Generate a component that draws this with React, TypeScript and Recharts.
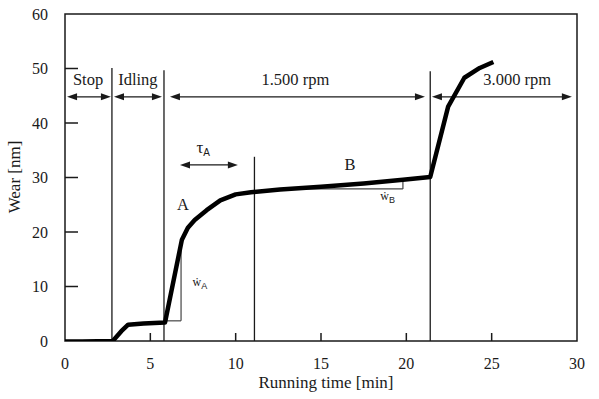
import { ComposedChart, Line, XAxis, YAxis, ReferenceLine, ReferenceDot, ReferenceArea } from "recharts"

// wear curve
const time = [0, 1, 2.8, 3.3, 3.7, 4.6, 5.86, 6.85, 7.2, 7.6, 8.3, 9.1, 10.0, 10.9, 12.6, 15, 17.5, 19.8, 21.4, 22.45, 23.4, 24.3, 25.1]
const wear = [-0.1, -0.1, 0, 1.8, 3.0, 3.2, 3.4, 18.6, 20.8, 22.2, 24.0, 25.8, 26.9, 27.3, 27.8, 28.3, 28.9, 29.6, 30.1, 43, 48.3, 50.1, 51.2]

const xTicks = [0, 5, 10, 15, 20, 25, 30]
const yTicks = [0, 10, 20, 30, 40, 50, 60]
const xInner = [5, 10, 15, 20, 25]
const yInner = [10, 20, 30, 40, 50]

// phase boundaries (vertical lines)
const phaseTimes = [2.75, 5.8, 11.1, 21.4]
const phaseTops = [50.1, 49.7, 33.8, 49.5]

// double-headed arrows with their labels
const spanLabels = ["Stop", "Idling", "1.500 rpm", "3.000 rpm"]
const spanStarts = [0.12, 2.87, 6.15, 21.5]
const spanEnds = [2.69, 5.68, 21.09, 29.7]
const spanLabelTimes = [1.35, 4.27, 13.5, 26.5]
const spanLevel = 44.8

// tau_A arrow
const tauStart = 6.74
const tauEnd = 10.13
const tauLevel = 32.3

// rate triangles
const rateSegments = [
  [{ x: 5.9, y: 3.7 }, { x: 6.8, y: 3.7 }],
  [{ x: 6.8, y: 3.7 }, { x: 6.8, y: 18.6 }],
  [{ x: 12.5, y: 27.9 }, { x: 19.8, y: 27.9 }],
  [{ x: 19.8, y: 27.9 }, { x: 19.8, y: 29.6 }],
]

const data = time.map((t, i) => ({ t, w: wear[i] }))

const FONT = "'Liberation Serif', 'Times New Roman', serif"
const INK = "#1a1a1a"

function Arrow(props: any) {
  const { x1, y1, x2 } = props
  const l = Math.min(x1, x2)
  const r = Math.max(x1, x2)
  const y = y1
  const hl = 10
  const hw = 3.5
  return (
    <g>
      <line x1={l + 4} y1={y} x2={r - 4} y2={y} stroke={INK} strokeWidth={1.3} />
      <polygon points={`${l},${y} ${l + hl},${y - hw} ${l + hl},${y + hw}`} fill={INK} />
      <polygon points={`${r},${y} ${r - hl},${y - hw} ${r - hl},${y + hw}`} fill={INK} />
    </g>
  )
}

function Label(text: string, sub?: string, size = 16, subSize = 10) {
  return (props: any) => (
    <text x={props.cx} y={props.cy} textAnchor="middle" dominantBaseline="central" fontFamily={FONT} fontSize={size} fill={INK}>
      {text}
      {sub ? (
        <tspan dy={4} fontSize={subSize} fontFamily="'Liberation Sans', Arial, sans-serif">
          {sub}
        </tspan>
      ) : null}
    </text>
  )
}

export default function App() {
  return (
    <div style={{ position: "absolute", left: 0, top: 0, background: "#fff" }}>
      <ComposedChart width={599} height={399} data={data} margin={{ top: 14, right: 22, bottom: 8, left: 0 }}>
        <XAxis
          dataKey="t"
          type="number"
          domain={[0, 30]}
          ticks={xTicks}
          axisLine={false}
          tickLine={false}
          tickSize={0}
          tickMargin={17}
          height={50}
          tick={{ fontFamily: FONT, fontSize: 16, fill: INK }}
          label={{ value: "Running time [min]", position: "insideBottom", offset: 3, dx: 5, fontFamily: FONT, fontSize: 17, fill: INK }}
        />
        <YAxis
          type="number"
          domain={[0, 60]}
          ticks={yTicks}
          allowDataOverflow
          axisLine={false}
          tickLine={false}
          tickSize={0}
          tickMargin={17}
          width={65}
          tick={{ fontFamily: FONT, fontSize: 16, fill: INK }}
          label={{
            content: (p: any) => {
              const vb = p.viewBox
              const cx = vb.x + 14
              const cy = 177
              return (
                <text x={cx} y={cy} transform={`rotate(-90 ${cx} ${cy})`} textAnchor="middle" dominantBaseline="central" fontFamily={FONT} fontSize={17} fill={INK}>
                  Wear [nm]
                </text>
              )
            },
          }}
        />

        <ReferenceArea x1={0} x2={30} y1={0} y2={60} fill="none" stroke={INK} strokeWidth={1.5} ifOverflow="visible" />

        {yInner.map((v) => (
          <ReferenceLine
            key={`yi${v}`}
            y={v}
            shape={(p: any) => {
              const x0 = Math.min(p.x1, p.x2)
              return <line x1={x0} y1={p.y1} x2={x0 + 13} y2={p.y1} stroke={INK} strokeWidth={1.5} />
            }}
          />
        ))}
        {xInner.map((v) => (
          <ReferenceLine
            key={`xi${v}`}
            x={v}
            shape={(p: any) => {
              const yb = Math.max(p.y1, p.y2)
              return <line x1={p.x1} y1={yb} x2={p.x1} y2={yb - 8} stroke={INK} strokeWidth={1.5} />
            }}
          />
        ))}

        {phaseTimes.map((t, i) => (
          <ReferenceLine
            key={`ph${i}`}
            segment={[
              { x: t, y: 0 },
              { x: t, y: phaseTops[i] },
            ]}
            stroke={INK}
            strokeWidth={1.3}
          />
        ))}

        {rateSegments.map((s, i) => (
          <ReferenceLine key={`rs${i}`} segment={s} stroke="#444" strokeWidth={1.2} />
        ))}

        {spanLabels.map((lab, i) => (
          <ReferenceLine
            key={`sp${i}`}
            segment={[
              { x: spanStarts[i], y: spanLevel },
              { x: spanEnds[i], y: spanLevel },
            ]}
            shape={Arrow}
          />
        ))}
        {spanLabels.map((lab, i) => (
          <ReferenceDot key={`sl${i}`} x={spanLabelTimes[i]} y={spanLevel + 3.1} r={0} shape={Label(lab, undefined, 16.5)} />
        ))}

        <ReferenceLine
          segment={[
            { x: tauStart, y: tauLevel },
            { x: tauEnd, y: tauLevel },
          ]}
          shape={Arrow}
        />
        <ReferenceDot x={8.1} y={35.5} r={0} shape={Label("τ", "A", 17, 10)} />

        <ReferenceDot x={6.91} y={25} r={0} shape={Label("A", undefined, 16.5)} />
        <ReferenceDot x={16.7} y={32.3} r={0} shape={Label("B", undefined, 16.5)} />
        <ReferenceDot x={7.9} y={10.8} r={0} shape={Label("ẇ", "A", 12, 9)} />
        <ReferenceDot x={18.9} y={26.6} r={0} shape={Label("ẇ", "B", 12, 9)} />

        <Line
          type="linear"
          dataKey="w"
          stroke="#000"
          strokeWidth={4.5}
          strokeLinejoin="round"
          dot={false}
          isAnimationActive={false}
        />
      </ComposedChart>
    </div>
  )
}
